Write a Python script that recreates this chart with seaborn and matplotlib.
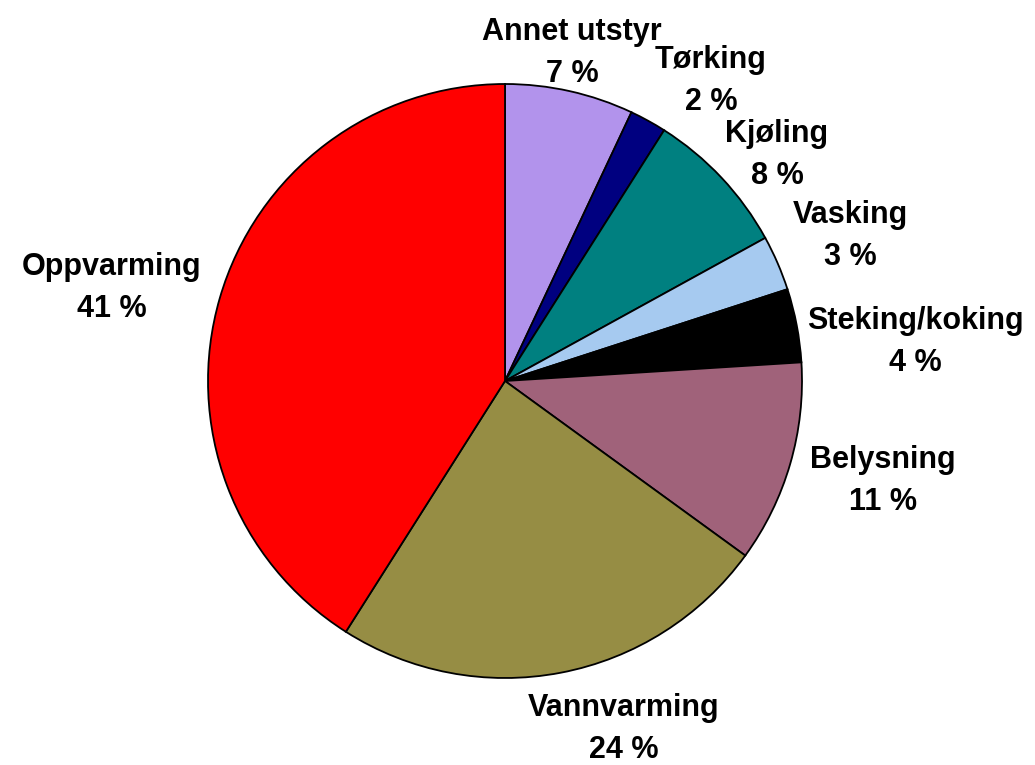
import numpy as np
import seaborn as sns
import matplotlib.pyplot as plt

# Energibruk fordelt på formål
kategorier = ["Annet utstyr", "Tørking", "Kjøling", "Vasking", "Steking/koking",
              "Belysning", "Vannvarming", "Oppvarming"]
andeler = [7, 2, 8, 3, 4, 11, 24, 41]
farger = ["#b293ec", "#000080", "#008080", "#a6caf0", "#000000",
          "#a0627a", "#968d44", "#ff0000"]

# små justeringer av etikettplassering (vinkel i grader, avstand fra sentrum)
vinkel_just = [2.6, -4.2, -2.2, 0.6, -4.3, 0.0, 5.5, 0.9]
avstand = [1.0, 1.085, 1.04, 1.08, 1.025, 1.08, 1.1, 1.07]

sns.set_style("white")
plt.rcParams["font.family"] = ["Liberation Sans", "DejaVu Sans"]

fig = plt.figure(figsize=(10.35, 7.65), dpi=100)
ax = fig.add_axes([208 / 1035, 87 / 765, 594 / 1035, 594 / 765])

wedges, _ = ax.pie(andeler, colors=farger, startangle=90, counterclock=False,
                   radius=1.0, wedgeprops=dict(edgecolor="black", linewidth=1.3))
ax.set_xlim(-1, 1)
ax.set_ylim(-1, 1)
ax.set_aspect("equal")
ax.axis("off")

tekster = []
for navn, v in zip(kategorier, andeler):
    t = ax.text(0, 0, f"{navn}\n{v} %", ha="center", va="center", color="black",
                fontsize=22, fontweight="bold", linespacing=1.52)
    tekster.append(t)

# plasser etikettene slik at kanten mot kaka ligger langs sektorens midtlinje
fig.canvas.draw()
r = fig.canvas.get_renderer()
inv = ax.transData.inverted()
for w, t, dv, g in zip(wedges, tekster, vinkel_just, avstand):
    theta = np.deg2rad((w.theta1 + w.theta2) / 2 + dv)
    bb = t.get_window_extent(r).transformed(inv)
    hw, hh = bb.width / 2, bb.height / 2
    ux, uy = np.cos(theta), np.sin(theta)
    t.set_position(((g + hw) * ux, (g + hh) * uy))

fig.savefig("out.png", dpi=100)
